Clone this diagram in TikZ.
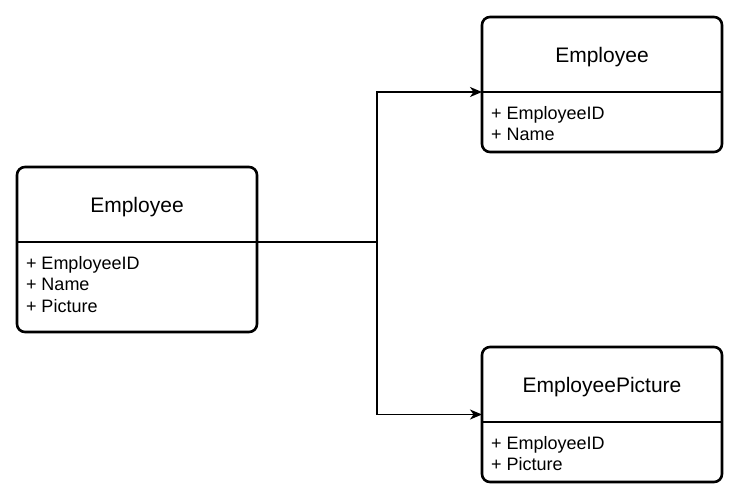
\documentclass[tikz,border=0pt]{standalone}
\usepackage{fontspec}
\setmainfont{Liberation Sans}
\usetikzlibrary{arrows.meta}

\newcommand{\bw}[0]{240pt}
\newcommand{\hh}[0]{75pt}

\tikzset{
  classbox/.style={draw, line width=2.6pt, rounded corners=8pt, minimum width=\bw,
    inner sep=0pt, outer sep=0pt},
  header/.style={minimum width=\bw, minimum height=\hh, inner sep=0pt, outer sep=0pt,
    text depth=0pt, font=\fontsize{21}{25}\selectfont},
  attrs/.style={align=left, inner xsep=9pt, inner ysep=14pt, outer sep=0pt,
    font=\fontsize{18}{21.8}\selectfont},
  divider/.style={line width=2.2pt},
  link/.style={line width=1.5pt},
  arrow/.style={link, -{Stealth[length=12pt, width=10pt, inset=3.5pt]}}
}

\begin{document}
\begin{tikzpicture}[x=1pt, y=-1pt]

\useasboundingbox (0,0) rectangle (738,498);

% left class
\node[classbox, minimum height=165pt] (emp) at (137,249.5) {};
\node[header, anchor=north] (empH) at (emp.north) {Employee};
\draw[divider] (empH.south west) -- (empH.south east);
\node[attrs, anchor=north west] (empA) at (empH.south west) {+ EmployeeID\\+ Name\\+ Picture};

% right top class
\node[classbox, minimum height=135pt] (id) at (602,84.5) {};
\node[header, anchor=north] (idH) at (id.north) {Employee};
\draw[divider] (idH.south west) -- (idH.south east);
\node[attrs, anchor=north west] (idA) at (idH.south west) {+ EmployeeID\\+ Name};

% right bottom class
\node[classbox, minimum height=135pt] (pic) at (602,414.5) {};
\node[header, anchor=north] (picH) at (pic.north) {EmployeePicture};
\draw[divider] (picH.south west) -- (picH.south east);
\node[attrs, anchor=north west] (picA) at (picH.south west) {+ EmployeeID\\+ Picture};

% split
\coordinate (split) at (377,242);
\draw[link] (empH.south east) -- (split);
\draw[arrow] (split) |- (idH.south west);
\draw[arrow] (split) |- (pic.west);

\end{tikzpicture}
\end{document}
